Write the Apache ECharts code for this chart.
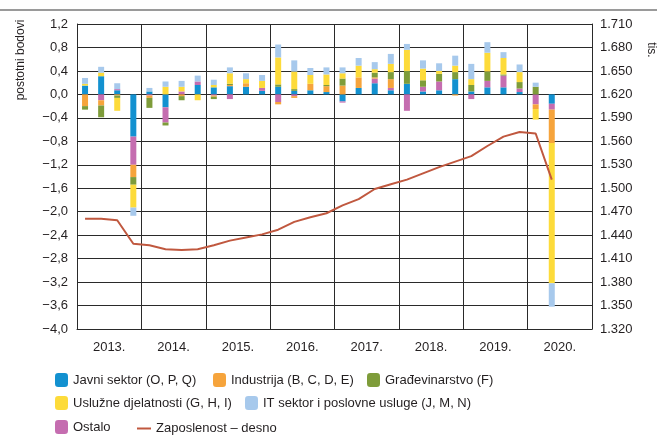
<!DOCTYPE html>
<html>
<head>
<meta charset="utf-8">
<script src="https://cdn.jsdelivr.net/npm/echarts@6/dist/echarts.min.js"></script>
<style>
    html, body { margin: 0; padding: 0; background: #fff; }
    #main { width: 657px; height: 436px; }
</style>
</head>
<body>
<div id="main"></div>
<script>
    // kvartali 2013. - 2020. (zadnja dva prazna)
    var quarters = [];
    var years = ['2013.', '2014.', '2015.', '2016.', '2017.', '2018.', '2019.', '2020.'];
    years.forEach(function (y) {
        for (var q = 1; q <= 4; q++) quarters.push(y + ' Q' + q);
    });

    var javni = [0.15, 0.31, 0.07, -0.72, 0.05, -0.22, 0, 0.16, 0.12, 0.14, 0.13, 0.06,
        0.13, 0.06, 0.07, 0.04, -0.12, 0.11, 0.19, 0.07, 0.18, 0.05, 0.07, 0.26,
        0.05, 0.12, 0.12, 0.04, 0, -0.16];
    var ostalo = [0, -0.1, 0.02, -0.48, -0.02, -0.26, 0.05, 0.06, -0.02, -0.08, 0, 0.05,
        -0.13, -0.03, 0, 0, -0.02, 0, 0.08, 0.04, -0.28, 0.08, 0.15, 0,
        -0.08, 0.11, 0.2, 0.06, -0.17, -0.10];
    var industrija = [-0.2, -0.09, -0.02, -0.21, -0.04, 0, -0.03, 0, -0.02, 0.02, 0.06, 0,
        -0.04, -0.03, 0.11, 0.1, 0.15, 0.18, 0.02, 0.15, 0, 0, 0, -0.02,
        0, 0, 0, 0, -0.08, -0.57];
    var gradevinarstvo = [-0.06, -0.2, -0.04, -0.13, -0.17, -0.05, -0.07, 0, -0.04, 0.02, 0, 0,
        0.04, 0.03, 0, 0.02, 0.12, 0, 0.08, 0.12, 0.22, 0.11, 0.13, 0.12,
        0.11, 0.16, 0.02, 0.11, 0.13, 0];
    var usluzne = [0.03, 0.06, -0.22, -0.39, 0, 0.13, 0.08, -0.1, 0.04, 0.18, 0.07, 0.12,
        0.46, 0.3, 0.15, 0.18, 0.09, 0.2, 0.06, 0.14, 0.36, 0.2, 0.05, 0.11,
        0.1, 0.32, 0.28, 0.17, -0.18, -2.39];
    var itSektor = [0.1, 0.1, 0.1, -0.14, 0.06, 0.09, 0.1, 0.1, 0.09, 0.1, 0.1, 0.1,
        0.22, 0.19, 0.12, 0.12, 0.1, 0.13, 0.12, 0.17, 0.1, 0.14, 0.13, 0.17,
        0.26, 0.18, 0.1, 0.13, 0.07, -0.40];
    // zaposlenost, tisuce (desna os)
    var zaposlenost = [1.461, 1.461, 1.459, 1.429, 1.427, 1.422, 1.421, 1.422,
        1.427, 1.433, 1.437, 1.441, 1.447, 1.457, 1.463, 1.468,
        1.478, 1.486, 1.499, 1.505, 1.511, 1.519, 1.527, 1.534,
        1.541, 1.554, 1.566, 1.572, 1.570, 1.511];

    var FONT = '"Liberation Sans", Arial, sans-serif';
    var TXT = '#231f20';
    var GRID = '#2a2a2a';

    function bar(name, data, color) {
        return {
            name: name,
            type: 'bar',
            stack: 'dop',
            barWidth: 6,
            xAxisIndex: 0,
            yAxisIndex: 0,
            itemStyle: { color: color },
            data: data
        };
    }

    function legendItem(name, left, top, w, h, icon) {
        return {
            data: [icon ? { name: name, icon: icon } : name],
            left: left,
            top: top,
            padding: 0,
            itemWidth: w || 13,
            itemHeight: h || 14,
            selectedMode: false,
            textStyle: { fontFamily: FONT, fontSize: 13, color: TXT }
        };
    }

    function drawChart() {
        var chart = echarts.init(document.getElementById('main'));
        chart.setOption({
            animation: false,
            grid: { left: 77, right: 65, top: 24, bottom: 107 },
            legend: [
                legendItem('Javni sektor (O, P, Q)', 55, 373),
                legendItem('Industrija (B, C, D, E)', 213, 373),
                legendItem('Građevinarstvo (F)', 367, 373),
                legendItem('Uslužne djelatnosti (G, H, I)', 55, 396),
                legendItem('IT sektor i poslovne usluge (J, M, N)', 245, 396),
                legendItem('Ostalo', 55, 420),
                legendItem('Zaposlenost – desno', 137, 422, 14, 2, 'rect')
            ],
            xAxis: [
                {
                    type: 'category',
                    data: quarters,
                    show: false
                },
                {
                    type: 'category',
                    data: years,
                    position: 'bottom',
                    axisLine: { lineStyle: { color: GRID } },
                    axisTick: { show: false },
                    splitLine: { show: true, lineStyle: { color: GRID } },
                    axisLabel: { fontFamily: FONT, fontSize: 13, color: TXT, margin: 12 }
                }
            ],
            yAxis: [
                {
                    type: 'value',
                    min: -4,
                    max: 1.2,
                    interval: 0.4,
                    axisLine: { show: true, lineStyle: { color: GRID } },
                    axisTick: { show: false },
                    splitLine: { lineStyle: { color: GRID } },
                    axisLabel: {
                        fontFamily: FONT, fontSize: 13, color: TXT, margin: 9,
                        formatter: function (v) {
                            return v.toFixed(1).replace('.', ',').replace('-', '−');
                        }
                    }
                },
                {
                    type: 'value',
                    min: 1.32,
                    max: 1.71,
                    interval: 0.03,
                    position: 'right',
                    axisLine: { show: true, lineStyle: { color: GRID } },
                    axisTick: { show: false },
                    splitLine: { show: false },
                    axisLabel: {
                        fontFamily: FONT, fontSize: 13, color: TXT, margin: 8,
                        formatter: function (v) { return v.toFixed(3); }
                    }
                }
            ],
            series: [
                bar('Javni sektor (O, P, Q)', javni, '#1391d0'),
                bar('Ostalo', ostalo, '#c56db0'),
                bar('Industrija (B, C, D, E)', industrija, '#f6a43c'),
                bar('Građevinarstvo (F)', gradevinarstvo, '#7e9c3a'),
                bar('Uslužne djelatnosti (G, H, I)', usluzne, '#fddb3a'),
                bar('IT sektor i poslovne usluge (J, M, N)', itSektor, '#a7c9ec'),
                {
                    name: 'Zaposlenost – desno',
                    type: 'line',
                    xAxisIndex: 0,
                    yAxisIndex: 1,
                    symbol: 'none',
                    lineStyle: { color: '#c0583f', width: 2 },
                    itemStyle: { color: '#c0583f' },
                    data: zaposlenost
                }
            ],
            graphic: [
                { type: 'rect', shape: { x: 0, y: 9, width: 657, height: 2 }, style: { fill: '#9a9a9a' } },
                {
                    type: 'text', x: 21, y: 60, rotation: Math.PI / 2,
                    style: { text: 'postotni bodovi', font: '12px ' + FONT, fill: TXT, align: 'center', verticalAlign: 'middle' }
                },
                {
                    type: 'text', x: 651, y: 50, rotation: -Math.PI / 2,
                    style: { text: 'tis.', font: '12px ' + FONT, fill: TXT, align: 'center', verticalAlign: 'middle' }
                }
            ]
        });
    }

    drawChart();
</script>
</body>
</html>
